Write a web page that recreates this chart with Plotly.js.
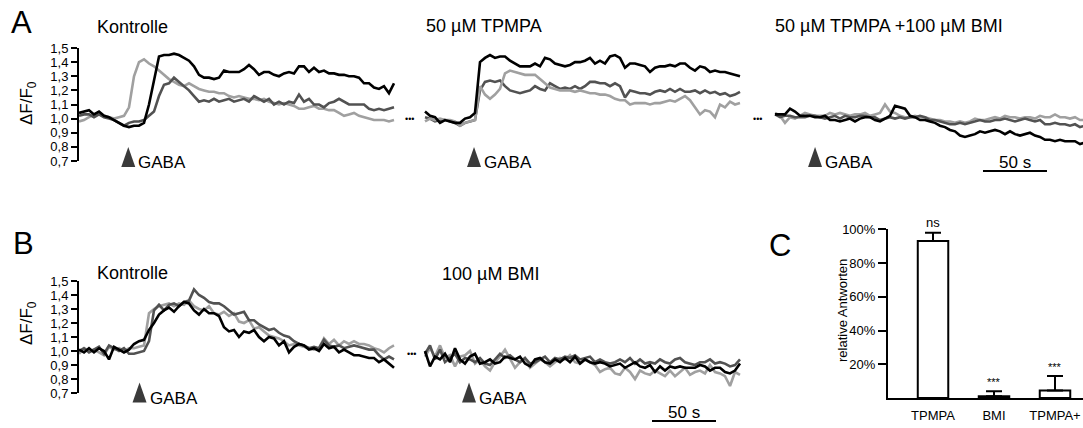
<!DOCTYPE html>
<html><head><meta charset="utf-8">
<script src="https://cdn.plot.ly/plotly-3.0.1.min.js"></script>
<style>html,body{margin:0;padding:0;background:#fff}#chart{width:1083px;height:428px}</style>
</head><body><div id="chart"></div>
<script>
// ---------------- data ----------------
const DT = 3.90625;               // sampling interval of the traces (s)
const SCALE_S = 50;               // scale bar length (s)
const yTickVals = [0.7,0.8,0.9,1.0,1.1,1.2,1.3,1.4,1.5];
const yTickText = ['0,7','0,8','0,9','1,0','1,1','1,2','1,3','1,4','1,5'];

// Panel A – Kontrolle
const aCtrlBlack = [1.04,1.05,1.06,1.03,1.05,1.02,1.01,0.99,0.97,0.95,0.94,0.95,0.95,0.97,1.10,1.27,1.44,1.45,1.45,1.46,1.45,1.43,1.41,1.37,1.31,1.29,1.29,1.28,1.29,1.34,1.33,1.33,1.33,1.35,1.38,1.35,1.31,1.33,1.33,1.31,1.30,1.32,1.33,1.32,1.37,1.37,1.33,1.36,1.33,1.34,1.32,1.32,1.31,1.31,1.30,1.30,1.29,1.25,1.25,1.22,1.21,1.23,1.18,1.25];
const aCtrlDark  = [1.02,1.03,1.03,1.01,1.03,1.01,1.00,0.99,0.97,0.95,0.97,0.98,0.98,0.99,1.02,1.05,1.16,1.24,1.25,1.29,1.26,1.23,1.20,1.16,1.12,1.13,1.12,1.14,1.12,1.13,1.14,1.12,1.13,1.14,1.12,1.16,1.14,1.12,1.14,1.10,1.12,1.10,1.12,1.11,1.17,1.12,1.14,1.10,1.10,1.08,1.11,1.12,1.14,1.12,1.10,1.10,1.10,1.10,1.07,1.06,1.07,1.06,1.07,1.08];
const aCtrlLight = [0.98,0.99,1.01,1.03,1.03,1.02,1.01,1.00,1.01,1.02,1.08,1.30,1.40,1.42,1.39,1.37,1.34,1.31,1.28,1.26,1.24,1.23,1.25,1.23,1.21,1.20,1.19,1.19,1.18,1.18,1.16,1.15,1.16,1.15,1.14,1.14,1.13,1.14,1.12,1.11,1.10,1.11,1.10,1.09,1.07,1.07,1.08,1.09,1.07,1.07,1.06,1.06,1.04,1.02,1.03,1.04,1.02,1.01,1.00,0.99,0.99,0.99,0.98,0.99];
// Panel A – 50 µM TPMPA
const aTpBlack = [1.05,1.02,1.01,0.97,0.99,0.98,0.97,0.97,1.00,1.01,1.04,1.40,1.43,1.45,1.43,1.44,1.44,1.41,1.39,1.37,1.37,1.37,1.39,1.37,1.43,1.42,1.39,1.38,1.37,1.38,1.40,1.40,1.41,1.43,1.39,1.41,1.39,1.44,1.45,1.43,1.36,1.39,1.39,1.38,1.37,1.33,1.36,1.37,1.37,1.38,1.37,1.39,1.39,1.36,1.34,1.37,1.36,1.33,1.34,1.33,1.33,1.32,1.31,1.30];
const aTpDark  = [1.01,1.00,0.98,0.99,0.99,0.98,0.97,0.95,0.97,0.98,0.99,1.20,1.26,1.27,1.26,1.27,1.23,1.20,1.19,1.18,1.19,1.20,1.23,1.21,1.20,1.25,1.23,1.21,1.22,1.21,1.23,1.21,1.23,1.26,1.26,1.25,1.25,1.23,1.25,1.23,1.15,1.20,1.19,1.18,1.18,1.17,1.19,1.20,1.19,1.21,1.19,1.21,1.19,1.19,1.20,1.18,1.20,1.18,1.19,1.17,1.18,1.16,1.17,1.19];
const aTpLight = [0.98,1.00,0.99,1.00,0.99,0.99,0.98,0.95,0.97,0.98,0.99,1.23,1.17,1.14,1.17,1.21,1.32,1.34,1.33,1.32,1.31,1.31,1.31,1.28,1.25,1.22,1.21,1.20,1.20,1.20,1.19,1.20,1.19,1.18,1.18,1.17,1.17,1.16,1.14,1.13,1.13,1.10,1.11,1.11,1.11,1.10,1.11,1.11,1.12,1.13,1.12,1.14,1.16,1.13,1.08,1.03,1.06,1.05,1.01,1.10,1.08,1.12,1.10,1.11];
// Panel A – 50 µM TPMPA + 100 µM BMI
const aBothBlack = [1.03,1.03,1.03,1.07,1.05,1.02,1.02,1.02,1.01,1.01,1.02,0.99,0.99,0.98,0.99,1.00,0.98,1.00,1.01,1.01,0.99,0.98,1.00,1.02,1.09,1.08,1.07,1.02,1.01,0.99,0.99,0.98,0.97,0.95,0.94,0.92,0.91,0.88,0.87,0.88,0.89,0.91,0.90,0.91,0.92,0.91,0.89,0.91,0.89,0.88,0.89,0.90,0.88,0.87,0.85,0.85,0.84,0.85,0.84,0.84,0.84,0.82,0.83];
const aBothDark  = [1.03,1.01,1.02,1.02,1.01,1.01,1.01,1.02,1.02,1.01,1.00,1.01,1.02,1.00,1.02,1.01,1.01,1.02,1.02,1.01,1.01,0.99,1.00,1.01,1.00,1.01,1.00,1.01,1.01,1.02,1.01,0.99,0.99,0.98,0.97,0.96,0.96,0.97,0.96,0.97,0.98,0.99,0.98,0.98,0.99,0.99,1.00,0.99,0.98,0.99,1.00,0.99,0.98,0.99,0.96,0.96,0.97,0.96,0.96,0.95,0.96,0.94,0.95];
const aBothLight = [1.04,1.02,0.97,1.01,1.00,1.02,1.04,1.03,1.02,1.02,1.02,1.04,1.03,1.04,1.03,1.02,1.03,1.03,1.04,1.02,1.03,1.04,1.10,1.05,1.04,1.02,1.01,1.01,1.02,1.01,1.01,1.00,0.99,0.99,0.98,0.98,0.97,0.98,0.97,0.98,1.00,0.99,0.99,1.00,1.01,1.00,1.02,1.01,1.01,1.00,1.01,1.01,1.00,1.02,1.01,1.01,1.03,1.01,1.01,1.00,1.01,0.99,0.99];
// Panel B – Kontrolle
const bCtrlBlack = [1.01,0.99,1.02,0.99,1.02,1.00,0.94,1.03,1.01,0.99,1.01,1.05,1.07,1.08,1.15,1.20,1.26,1.29,1.31,1.28,1.32,1.35,1.34,1.29,1.26,1.30,1.27,1.27,1.25,1.17,1.14,1.15,1.10,1.14,1.13,1.15,1.10,1.07,1.10,1.09,1.04,1.07,0.99,1.03,1.05,1.04,1.01,1.02,1.00,1.05,1.02,1.03,0.99,1.01,0.99,0.97,0.97,0.96,0.95,0.95,0.92,0.94,0.91,0.88];
const bCtrlDark  = [1.00,1.02,0.99,1.01,1.03,0.98,1.04,1.02,1.00,1.02,0.98,0.98,0.99,1.00,1.07,1.29,1.33,1.29,1.33,1.34,1.32,1.35,1.36,1.44,1.40,1.38,1.35,1.34,1.34,1.32,1.29,1.26,1.27,1.28,1.22,1.22,1.19,1.17,1.15,1.16,1.13,1.11,1.10,1.07,1.05,1.04,1.02,1.03,1.02,1.08,1.04,1.03,1.04,1.02,1.03,1.04,1.03,1.02,1.01,1.01,0.97,0.94,0.96,0.94];
const bCtrlLight = [0.98,1.02,1.00,1.01,0.99,0.97,1.03,1.01,1.02,1.00,1.02,1.02,1.03,1.04,1.27,1.30,1.32,1.33,1.34,1.32,1.34,1.33,1.36,1.32,1.30,1.29,1.32,1.27,1.26,1.28,1.25,1.27,1.21,1.20,1.22,1.16,1.17,1.14,1.11,1.10,1.09,1.07,1.04,1.05,1.04,1.03,1.02,1.01,1.02,1.09,1.05,1.08,1.04,1.07,1.05,1.07,1.05,1.05,1.04,1.02,1.01,0.99,1.02,1.04];
// Panel B – 100 µM BMI
const bBmiBlack = [1.00,0.89,0.96,0.94,0.98,0.92,1.02,0.94,0.91,0.96,0.98,0.91,0.92,0.94,0.91,0.92,0.96,0.95,0.94,0.96,0.91,0.89,0.94,0.95,0.92,0.91,0.94,0.92,0.95,0.92,0.96,0.91,0.94,0.92,0.91,0.92,0.91,0.89,0.90,0.91,0.88,0.90,0.92,0.89,0.88,0.90,0.85,0.89,0.86,0.89,0.88,0.89,0.88,0.88,0.88,0.90,0.89,0.86,0.88,0.88,0.85,0.84,0.86,0.91];
const bBmiDark  = [0.98,1.04,0.94,1.01,0.92,0.95,0.98,0.92,0.95,0.94,0.92,0.95,0.91,0.90,0.94,0.98,0.95,0.97,0.94,0.92,0.95,0.91,0.92,0.94,0.96,0.92,0.95,0.94,0.96,0.95,0.97,0.94,0.95,0.96,0.92,0.94,0.92,0.91,0.92,0.94,0.92,0.95,0.91,0.94,0.91,0.92,0.91,0.94,0.92,0.91,0.94,0.95,0.92,0.91,0.90,0.92,0.92,0.94,0.91,0.92,0.91,0.89,0.90,0.94];
const bBmiLight = [0.96,1.02,0.96,1.04,0.95,0.97,0.89,0.96,0.97,1.00,0.91,0.94,0.89,0.86,0.92,0.96,1.01,0.94,0.88,0.92,0.95,0.88,0.91,0.94,0.92,0.89,0.92,0.95,0.94,0.97,0.92,0.91,0.94,0.92,0.90,0.85,0.87,0.88,0.84,0.83,0.88,0.85,0.80,0.86,0.84,0.83,0.86,0.84,0.82,0.86,0.82,0.85,0.88,0.83,0.85,0.86,0.84,0.90,0.85,0.84,0.82,0.75,0.85,0.83];

// Panel C
const cCats   = ['TPMPA','BMI','TPMPA+<br>BMI'];
const cValues = [93, 1, 4.5];
const cErrors = [5, 3, 8.5];
const cSig    = ['ns','***','***'];
const cTickVals = [20,40,60,80,100];
const cTickText = ['20%','40%','60%','80%','100%'];

// GABA application times (s, per segment)
const gabaT = {aCtrl:38.5, aTp:42.2, aBoth:35.2, bCtrl:47.3, bBmi:38.3};

// ---------------- drawing ----------------
const W = 1083, H = 428;
const FONT = 'Liberation Sans, Arial, Helvetica, sans-serif';
const PXS = 1.28; // px per second
const COL = {black:'#000000', dark:'#525252', light:'#a0a0a0'};
const px = x => x / W;
const py = y => 1 - y / H;

const segs = {
  aCtrl: {xa:'x',  ya:'y',  x0:79,  x1:395,  yTop:48,  yBot:161, t0:0},
  aTp:   {xa:'x2', ya:'y2', x0:420, x1:746,  yTop:48,  yBot:161, t0:DT},
  aBoth: {xa:'x3', ya:'y3', x0:770, x1:1083, yTop:48,  yBot:161, t0:DT},
  bCtrl: {xa:'x4', ya:'y4', x0:79,  x1:395,  yTop:281, yBot:393, t0:0},
  bBmi:  {xa:'x5', ya:'y5', x0:420, x1:746,  yTop:281, yBot:393, t0:DT}
};
const series = {
  aCtrl: [aCtrlLight, aCtrlDark, aCtrlBlack],
  aTp:   [aTpDark, aTpLight, aTpBlack],
  aBoth: [aBothLight, aBothDark, aBothBlack],
  bCtrl: [bCtrlLight, bCtrlDark, bCtrlBlack],
  bBmi:  [bBmiLight, bBmiDark, bBmiBlack]
};
const colorsFor = {
  aCtrl: [COL.light, COL.dark, COL.black],
  aTp:   [COL.dark, COL.light, COL.black],
  aBoth: [COL.light, COL.dark, COL.black],
  bCtrl: [COL.light, COL.dark, COL.black],
  bBmi:  [COL.light, COL.dark, COL.black]
};

const traces = [];
const layout = {
  width: W, height: H, margin:{l:0,r:0,t:0,b:0},
  paper_bgcolor:'#fff', plot_bgcolor:'rgba(0,0,0,0)',
  showlegend:false, font:{family:FONT, color:'#000'},
  shapes:[], annotations:[]
};

Object.keys(segs).forEach((k, idx) => {
  const s = segs[k];
  const n = idx + 1;
  const xk = n === 1 ? 'xaxis' : 'xaxis' + n;
  const yk = n === 1 ? 'yaxis' : 'yaxis' + n;
  const left = (k === 'aCtrl' || k === 'bCtrl');
  layout[xk] = {domain:[px(s.x0), px(s.x1)], range:[0, (s.x1 - s.x0) / PXS], anchor:s.ya,
                visible:false, fixedrange:true};
  layout[yk] = {domain:[py(s.yBot), py(s.yTop)], range:[0.7, 1.5], anchor:s.xa,
                visible:left, showline:left, linecolor:'#000', linewidth:2,
                ticks:left ? 'outside' : '', ticklen:6, tickwidth:2, tickcolor:'#000',
                tickvals:yTickVals, ticktext:yTickText, tickfont:{size:13, family:FONT},
                showgrid:false, zeroline:false, fixedrange:true};
  series[k].forEach((vals, j) => {
    traces.push({x: vals.map((_, i) => s.t0 + i * DT), y: vals, xaxis:s.xa, yaxis:s.ya,
      mode:'lines', line:{color:colorsFor[k][j], width:2.6}, hoverinfo:'skip'});
  });
  // GABA marker
  const isA = k.startsWith('a');
  const triY = isA ? 157 : 392.5;
  layout.shapes.push({type:'path', xref:s.xa, yref:'paper', xsizemode:'pixel', ysizemode:'pixel',
    xanchor:gabaT[k], yanchor:py(triY), path:'M -7 -10 L 7 -10 L 0 10 Z',
    fillcolor:'#3a3a3a', line:{width:0}});
  layout.annotations.push({xref:s.xa, yref:'paper', x:gabaT[k], y:py(isA ? 162 : 398),
    xshift:8, xanchor:'left', yanchor:'middle', showarrow:false, text:'GABA',
    font:{size:17, family:FONT, color:'#000'}});
});

// scale bars
[['aBoth', 166.4, 171, 162], ['bBmi', 181.25, 421, 412]].forEach(([k, t, yb, yl]) => {
  const s = segs[k];
  layout.shapes.push({type:'line', xref:s.xa, yref:'paper', x0:t, x1:t + SCALE_S,
    y0:py(yb), y1:py(yb), line:{color:'#000', width:2}});
  layout.annotations.push({xref:s.xa, yref:'paper', x:t + SCALE_S / 2, y:py(yl),
    xanchor:'center', yanchor:'middle', showarrow:false, text:SCALE_S + ' s',
    font:{size:17, family:FONT, color:'#000'}});
});

// Panel C
traces.push({type:'bar', x:cCats, y:cValues, xaxis:'x6', yaxis:'y6', width:0.5,
  marker:{color:'#fff', line:{color:'#000', width:2}},
  error_y:{type:'data', symmetric:false, array:cErrors, arrayminus:cValues.map(() => 0),
           color:'#000', thickness:2, width:8}, hoverinfo:'skip'});
layout.xaxis6 = {domain:[px(888), 1], type:'category', range:[-0.738, 2.459], anchor:'y6',
  showline:true, linecolor:'#000', linewidth:2, ticks:'', tickfont:{size:13, family:FONT},
  ticklabelstandoff:4, showgrid:false, zeroline:false, fixedrange:true};
layout.yaxis6 = {domain:[py(398), py(229.3)], range:[0, 100], anchor:'x6',
  showline:true, linecolor:'#000', linewidth:2, ticks:'outside', ticklen:8, tickwidth:2,
  tickcolor:'#000', tickvals:cTickVals, ticktext:cTickText, tickfont:{size:13, family:FONT},
  showgrid:false, zeroline:false, fixedrange:true};
cCats.forEach((c, i) => {
  layout.annotations.push({xref:'x6', yref:'y6', x:c, y:cValues[i] + cErrors[i], yshift:1,
    xanchor:'center', yanchor:'bottom', showarrow:false, text:cSig[i],
    font:{size: cSig[i] === 'ns' ? 13 : 11, family:FONT, color:'#000'}});
});

// text labels
const txt = (x, y, text, size, opts) => layout.annotations.push(Object.assign({
  xref:'paper', yref:'paper', x:px(x), y:py(y), text, showarrow:false,
  xanchor:'left', yanchor:'middle', font:{size, family:FONT, color:'#000'}}, opts || {}));
txt(9, 23, 'A', 31);
txt(11, 243, 'B', 31);
txt(767, 245, 'C', 31);
txt(95, 27, 'Kontrolle', 18);
txt(424, 26, '50 µM TPMPA', 18);
txt(773, 26, '50 µM TPMPA +100 µM BMI', 18);
txt(95, 273, 'Kontrolle', 18);
txt(440, 274, '100 µM BMI', 18);
txt(28, 103, 'ΔF/F<sub>0</sub>', 17, {xanchor:'center', textangle:-90});
txt(28, 323, 'ΔF/F<sub>0</sub>', 17, {xanchor:'center', textangle:-90});
txt(842, 311, 'relative Antworten', 13, {xanchor:'center', textangle:-90});
// continuation dots
[['aTp', 409, 1.0], ['aTp', 757, 1.0], ['bBmi', 411, 0.98]].forEach(([k, x, v]) => {
  layout.annotations.push({xref:'paper', yref:segs[k].ya, x:px(x), y:v, text:'•••',
    showarrow:false, xanchor:'center', yanchor:'middle', font:{size:9, family:FONT, color:'#000'}});
});

Plotly.newPlot('chart', traces, layout, {displayModeBar:false, staticPlot:true});
</script>
</body></html>
